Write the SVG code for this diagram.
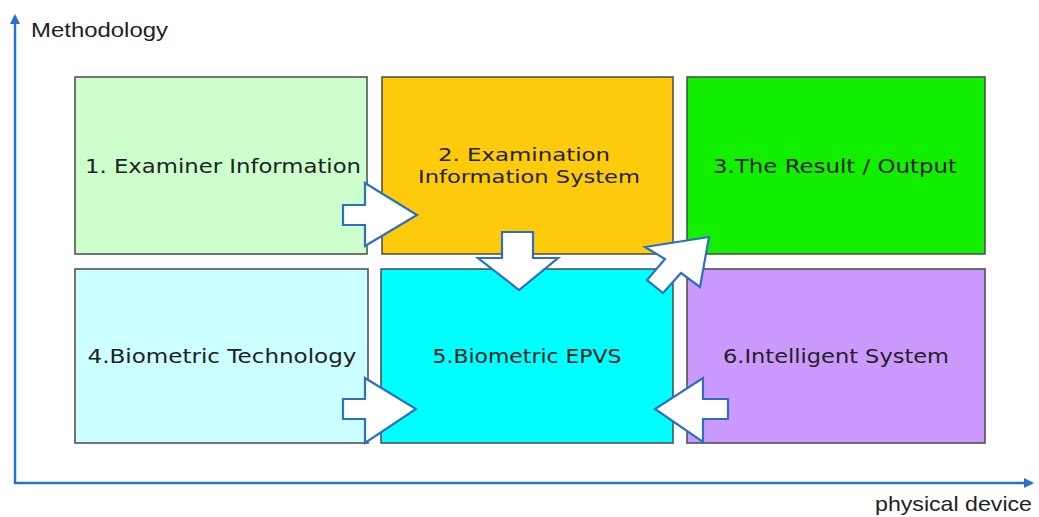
<svg xmlns="http://www.w3.org/2000/svg" width="1039" height="517" viewBox="0 0 1039 517">
<style>
.box{stroke:#4a4a4a;stroke-width:1.5}
.lbl{font-family:"DejaVu Sans",Verdana,sans-serif;font-size:20px;fill:#222;text-anchor:middle}
.sm{font-size:18.5px}
.ax{font-family:"Liberation Sans",Arial,sans-serif;font-size:21px;fill:#222}
.arr{fill:#fff;stroke:#2c6fc4;stroke-width:2.2;stroke-linejoin:miter}
.axis{stroke:#2a6fcc;stroke-width:2.5;fill:none}
</style>
<defs>
<marker id="ah" markerWidth="10" markerHeight="10" refX="8" refY="5" orient="auto" markerUnits="userSpaceOnUse">
<path d="M0,0 L10,5 L0,10 z" fill="#2a6fcc"/>
</marker>
</defs>
<rect width="1039" height="517" fill="#fff"/>
<g id="axes">
<line class="axis" x1="15" y1="484" x2="15" y2="16" marker-end="url(#ah)"/>
<line class="axis" x1="14" y1="483" x2="1032" y2="483" marker-end="url(#ah)"/>
<text class="ax" x="31" y="37" textLength="137" lengthAdjust="spacingAndGlyphs">Methodology</text>
<text class="ax" x="875" y="511" textLength="157" lengthAdjust="spacingAndGlyphs">physical device</text>
</g>
<g id="n1"><rect class="box" x="75" y="77" width="292" height="177" fill="#ccffcc"/><text class="lbl" x="223" y="173" textLength="276" lengthAdjust="spacingAndGlyphs">1. Examiner Information</text></g>
<g id="n2"><rect class="box" x="382" y="77" width="291" height="177" fill="#fecb0c"/><text class="lbl sm" x="524" y="161" textLength="172" lengthAdjust="spacingAndGlyphs">2. Examination</text><text class="lbl sm" x="529" y="183" textLength="222" lengthAdjust="spacingAndGlyphs">Information System</text></g>
<g id="n3"><rect class="box" x="687" y="77" width="298" height="177" fill="#12ef00"/><text class="lbl" x="835" y="173" textLength="244" lengthAdjust="spacingAndGlyphs">3.The Result / Output</text></g>
<g id="n4"><rect class="box" x="75" y="269" width="293" height="174" fill="#ccffff"/><text class="lbl" x="222" y="363" textLength="269" lengthAdjust="spacingAndGlyphs">4.Biometric Technology</text></g>
<g id="n5"><rect class="box" x="381" y="269" width="292" height="174" fill="#00ffff"/><text class="lbl" x="527" y="363" textLength="189" lengthAdjust="spacingAndGlyphs">5.Biometric EPVS</text></g>
<g id="n6"><rect class="box" x="687" y="269" width="298" height="174" fill="#cc99ff"/><text class="lbl" x="836" y="363" textLength="226" lengthAdjust="spacingAndGlyphs">6.Intelligent System</text></g>
<g id="connectors">
<polygon class="arr" points="343,205 365,205 365,183 417,215 365,246 365,225 343,225"/>
<polygon class="arr" points="343,399 365,399 365,378 416,409 365,443 365,419 343,419"/>
<polygon class="arr" points="502,232 533,232 533,258 558,258 519,290 478,258 502,258"/>
<polygon class="arr" points="728,399 703,399 703,378 655,409 703,442 703,419 728,419"/>
<polygon class="arr" points="709,237 645,247 665,259 647,280 663,293 681,273 700,287"/>
</g>
</svg>
